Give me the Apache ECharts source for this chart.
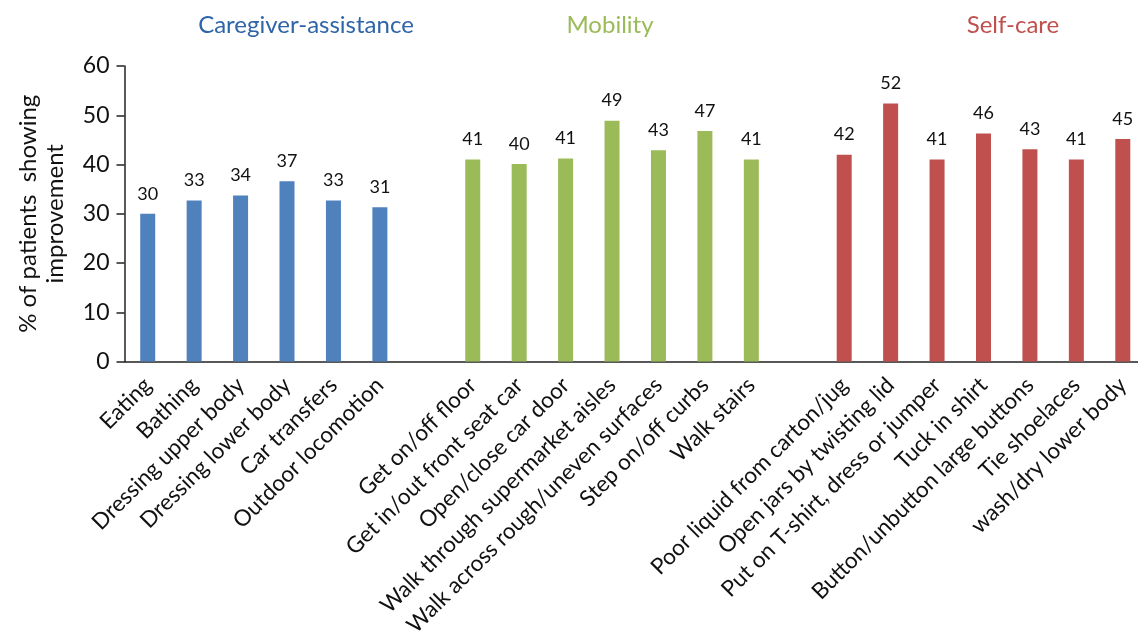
<!DOCTYPE html>
<html>
<head>
<meta charset="utf-8">
<script src="https://cdn.jsdelivr.net/npm/echarts@6/dist/echarts.min.js"></script>
<style>
html,body{margin:0;padding:0;background:#fff;}
#chart{width:1138px;height:637px;}
</style>
</head>
<body>
<div id="chart"></div>
<script>
const caregiverCategories = ['Eating','Bathing','Dressing upper body','Dressing lower body','Car transfers','Outdoor locomotion'];
const mobilityCategories = ['Get on/off floor','Get in/out front seat car','Open/close car door','Walk through supermarket aisles','Walk across rough/uneven surfaces','Step on/off curbs','Walk stairs'];
const selfCareCategories = ['Poor liquid from carton/jug','Open jars by twisting lid','Put on T-shirt, dress or jumper','Tuck in shirt','Button/unbutton large buttons','Tie shoelaces','wash/dry lower body'];

const caregiverValues = [30.0, 32.7, 33.7, 36.6, 32.7, 31.3];
const mobilityValues = [41.0, 40.1, 41.2, 48.9, 42.9, 46.8, 41.0];
const selfCareValues = [42.0, 52.4, 41.0, 46.3, 43.1, 41.0, 45.2];

const groupNames = ['Caregiver-assistance','Mobility','Self-care'];
const yTicks = [0, 10, 20, 30, 40, 50, 60];

const FONT = 'Lato';
const colors = ['#4F81BD', '#9BBB59', '#C0504D'];
const titleColors = ['#2E64A8', '#9BBB59', '#C0504D'];

const categories = [].concat(caregiverCategories, [' '], mobilityCategories, ['  '], selfCareCategories);
const n = categories.length;
function pad(vals, start) {
  const arr = new Array(n).fill('-');
  vals.forEach((v, i) => arr[start + i] = v);
  return arr;
}
const starts = [0, caregiverCategories.length + 1, caregiverCategories.length + mobilityCategories.length + 2];
const groupVals = [caregiverValues, mobilityValues, selfCareValues];

const chart = echarts.init(document.getElementById('chart'));

const gridLeft = 124.5, gridWidth = 1021.5, gridTop = 66, gridBottom = 275.5;

const series = groupVals.map((vals, g) => ({
  type: 'bar',
  name: groupNames[g],
  data: pad(vals, starts[g]),
  barWidth: 15,
  barGap: '-100%',
  itemStyle: { color: colors[g] },
  label: {
    show: true,
    position: 'top',
    distance: 11,
    formatter: p => Math.round(p.value),
    color: '#111',
    fontFamily: FONT,
    fontSize: 18
  }
}));

chart.setOption({
  animation: false,
  grid: { left: gridLeft, width: gridWidth, top: gridTop, bottom: gridBottom, containLabel: false, outerBoundsMode: 'none' },
  xAxis: {
    type: 'category',
    data: categories,
    axisLine: { lineStyle: { color: '#222', width: 1.5 } },
    axisTick: { show: false },
    axisLabel: { interval: 0, rotate: 45, margin: 20, color: '#111', fontFamily: FONT, fontSize: 22.5 }
  },
  yAxis: {
    type: 'value',
    min: yTicks[0],
    max: yTicks[yTicks.length - 1],
    interval: 10,
    name: '% of patients  showing\nimprovement',
    nameLocation: 'middle',
    nameRotate: 90,
    nameGap: 56,
    nameTextStyle: { color: '#111', fontFamily: FONT, fontSize: 24, lineHeight: 27 },
    axisLine: { show: true, lineStyle: { color: '#222', width: 1.5 } },
    axisTick: { show: true, length: 8, lineStyle: { color: '#222', width: 1.5 } },
    splitLine: { show: false },
    axisLabel: { margin: 15, color: '#111', fontFamily: FONT, fontSize: 23 }
  },
  graphic: groupNames.map((name, g) => ({
    type: 'text',
    x: [306, 610, 1013][g],
    y: 25,
    style: {
      text: name,
      fill: titleColors[g],
      font: '24px ' + FONT,
      textAlign: 'center',
      textVerticalAlign: 'middle'
    }
  })),
  series: series
});
</script>
</body>
</html>
